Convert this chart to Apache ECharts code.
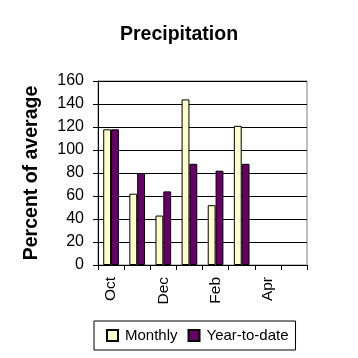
<!DOCTYPE html>
<html><head><meta charset="utf-8">
<script src="https://cdn.jsdelivr.net/npm/echarts@6/dist/echarts.min.js"></script>
<style>html,body{margin:0;padding:0;background:#fff}#c{width:358px;height:358px}</style>
</head><body><div id="c"></div>
<script>
var categories = ['Oct','Nov','Dec','Jan','Feb','Mar','Apr','May'];
var monthly = [118, 62, 43, 144, 52, 121, null, null];
var ytd = [118, 80, 64, 88, 82, 88, null, null];
var yTicks = [0, 20, 40, 60, 80, 100, 120, 140, 160];

var chart = echarts.init(document.getElementById('c'));
var font = 'Liberation Sans, Arial, sans-serif';
chart.setOption({
  animation: false,
  backgroundColor: '#fff',
  title: {
    text: 'Precipitation', left: 'center', top: 20,
    textStyle: {fontFamily: font, fontWeight: 'bold', fontSize: 19.5, color: '#000'}
  },
  legend: {
    data: ['Monthly', 'Year-to-date'],
    left: 94, top: 321,
    itemWidth: 11, itemHeight: 11, itemGap: 10,
    icon: 'rect',
    padding: [7, 7, 7, 12],
    borderColor: '#000', borderWidth: 1,
    textStyle: {fontFamily: font, fontSize: 15, color: '#000', padding: [0,0,0,2]}
  },
  grid: {
    left: 98, right: 51, top: 81, bottom: 93,
    show: true, borderColor: '#808080', borderWidth: 1
  },
  xAxis: {
    type: 'category', data: categories,
    axisLine: {lineStyle: {color: '#000', width: 1}},
    axisTick: {show: true, interval: 0, length: 5, lineStyle: {color: '#000'}},
    axisLabel: {interval: 1, rotate: 90, margin: 12, fontFamily: font, fontSize: 15.5, color: '#000'},
    splitLine: {show: false}
  },
  yAxis: {
    type: 'value', min: 0, max: 160, interval: 20,
    name: 'Percent of average', nameLocation: 'middle', nameGap: 56,
    nameTextStyle: {fontFamily: font, fontWeight: 'bold', fontSize: 19.5, color: '#000'},
    axisLine: {show: true, lineStyle: {color: '#000'}},
    axisTick: {show: true, length: 5, lineStyle: {color: '#000'}},
    axisLabel: {fontFamily: font, fontSize: 16, color: '#000', margin: 14,
      formatter: function(v){ return yTicks.indexOf(v) >= 0 ? String(v) : ''; }},
    splitLine: {show: true, lineStyle: {color: '#000', width: 1}}
  },
  series: [
    {name: 'Monthly', type: 'bar', data: monthly, barGap: '0%', barCategoryGap: '40%',
     itemStyle: {color: '#FFFFCC', borderColor: '#000', borderWidth: 1}},
    {name: 'Year-to-date', type: 'bar', data: ytd,
     itemStyle: {color: '#660066', borderColor: '#000', borderWidth: 1}}
  ]
});
</script></body></html>
